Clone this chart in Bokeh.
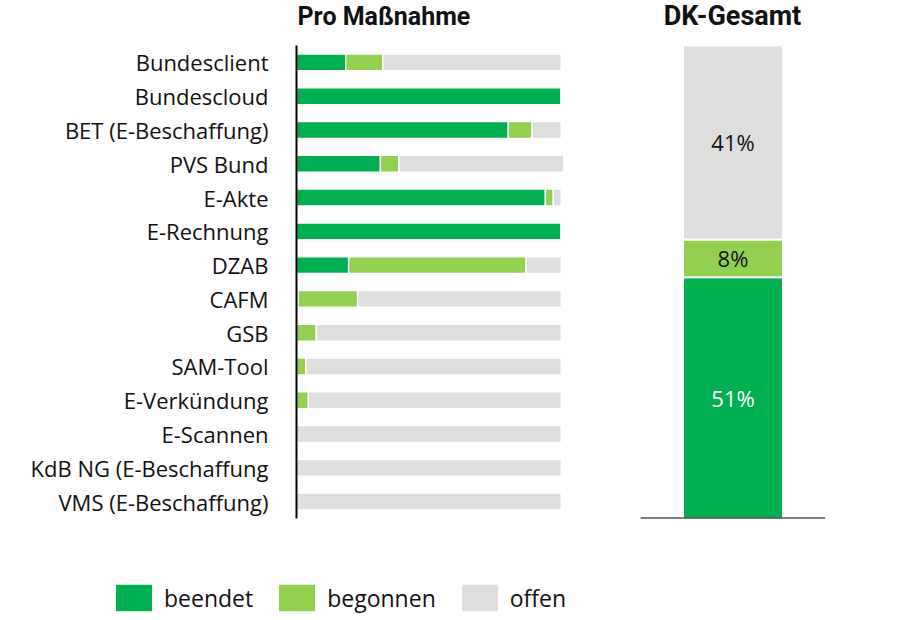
from bokeh.plotting import figure
from bokeh.layouts import column, row
from bokeh.models import Range1d, FactorRange, Span, Legend, LegendItem, ColumnDataSource
from bokeh.core.properties import value
from bokeh.embed import file_html
from bokeh.resources import INLINE
import numpy as np

# ---- data ----
categories = ["Bundesclient", "Bundescloud", "BET (E-Beschaffung)", "PVS Bund", "E-Akte",
              "E-Rechnung", "DZAB", "CAFM", "GSB", "SAM-Tool", "E-Verkündung",
              "E-Scannen", "KdB NG (E-Beschaffung", "VMS (E-Beschaffung)"]
beendet = [18.6, 100, 80, 31.7, 94, 100, 19.7, 0.6, 0, 0, 0, 0, 0, 0]
begonnen = [14, 0, 9, 7, 3, 0, 67, 22.5, 7.5, 3.5, 4.5, 0, 0, 0]
offen = [67.4, 0, 11, 62.3, 3, 0, 13.3, 76.9, 92.5, 96.5, 95.5, 100, 100, 100]

status = ["beendet", "begonnen", "offen"]
gesamt = [51, 8, 41]
gesamt_labels = ["51%", "8%", "41%"]
titles = ["Pro Maßnahme", "DK-Gesamt"]

colors = ["#00B050", "#92D050", "#DEDEDE"]
FONT = "Open Sans"
TFONT = "Roboto"
TXT = "#111111"


def bare(fig):
    fig.outline_line_color = None
    fig.grid.visible = False
    return fig


# ---- title strips ----
t1 = bare(figure(width=620, height=43, x_range=Range1d(0, 620), y_range=Range1d(0, 43),
                 output_backend="svg", toolbar_location=None, x_axis_location=None,
                 y_axis_location=None, min_border=0))
t1.text(x=[297], y=[27.5], text=[titles[0]], text_font=value(TFONT), text_font_size="25px",
        text_font_style="bold", text_color=TXT, text_align="left", text_baseline="middle")
t2 = bare(figure(width=275, height=43, x_range=Range1d(0, 275), y_range=Range1d(0, 43),
                 output_backend="svg", toolbar_location=None, x_axis_location=None,
                 y_axis_location=None, min_border=0))
t2.text(x=[112], y=[27.5], text=[titles[1]], text_font=value(TFONT), text_font_size="27px",
        text_font_style="bold", text_color=TXT, text_align="center", text_baseline="middle")

# ---- left panel ----
src = ColumnDataSource(dict(cat=categories, beendet=beendet, begonnen=begonnen, offen=offen))
p1 = bare(figure(width=620, height=485, y_range=FactorRange(*categories[::-1], range_padding=0),
                 x_range=Range1d(0, 105), output_backend="svg", toolbar_location=None,
                 x_axis_location=None, min_border_left=296, min_border_right=46,
                 min_border_top=0, min_border_bottom=10))
p1.hbar_stack(status, y="cat", height=0.5, color=colors, line_color="white", line_width=1.5, source=src)
p1.yaxis.axis_line_color = "black"
p1.yaxis.axis_line_width = 2
p1.yaxis.major_tick_line_color = None
p1.yaxis.minor_tick_line_color = None
p1.yaxis.major_label_standoff = 22
p1.yaxis.major_label_text_font = FONT
p1.yaxis.major_label_text_font_size = "22px"
p1.yaxis.major_label_text_color = TXT

# ---- right panel ----
x_pos = [0.925]
src2 = ColumnDataSource(dict(x=x_pos, beendet=[gesamt[0]], begonnen=[gesamt[1]], offen=[gesamt[2]]))
p2 = bare(figure(width=275, height=485, x_range=Range1d(0, 1.85), y_range=Range1d(0, 100),
                 output_backend="svg", toolbar_location=None, x_axis_location=None,
                 y_axis_location=None, min_border_left=20, min_border_right=70,
                 min_border_top=2, min_border_bottom=10))
p2.vbar_stack(status, x="x", width=1.0, color=colors, line_color="white", line_width=2, source=src2)
cum = np.cumsum(gesamt)
mids = cum - np.array(gesamt) / 2
p2.text(x=x_pos * 3, y=list(mids), text=gesamt_labels, text_align="center", text_baseline="middle",
        text_font_size="22px", text_font=value(FONT), text_color=["white", TXT, TXT])
p2.add_layout(Span(location=0, dimension="width", line_color="black", line_width=2))

# ---- legend panel ----
p3 = bare(figure(width=895, height=87, x_range=Range1d(0, 1), y_range=Range1d(0, 1),
                 output_backend="svg", toolbar_location=None, x_axis_location=None,
                 y_axis_location=None, min_border=0))
items = []
for s, c in zip(status, colors):
    r = p3.rect(x=[-5], y=[-5], width=0.1, height=0.1, fill_color=c, line_color=None)
    items.append(LegendItem(label=s, renderers=[r]))
leg = Legend(items=items, orientation="horizontal", location=(111, 1), glyph_width=45, glyph_height=33,
             label_standoff=8, spacing=21, padding=0, margin=0, border_line_color=None,
             background_fill_alpha=0, label_text_font=FONT, label_text_font_size="23px",
             label_text_color=TXT)
p3.add_layout(leg)

layout = column(row(t1, t2), row(p1, p2), p3)
open("out.html", "w").write(file_html(layout, INLINE))
